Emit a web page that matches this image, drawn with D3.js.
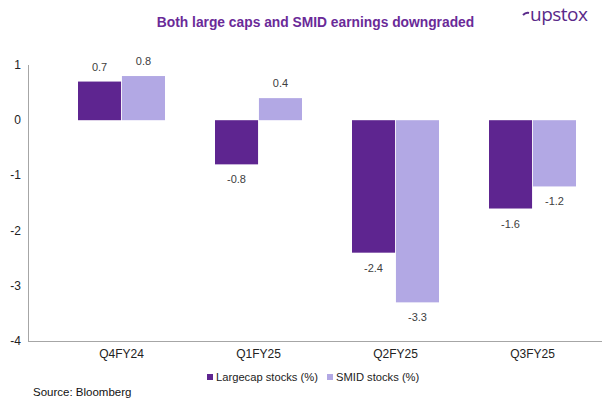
<!DOCTYPE html>
<html><head><meta charset="utf-8">
<script src="https://cdn.jsdelivr.net/npm/d3@7"></script>
<style>body{margin:0;background:#fff}svg{display:block;font-family:"Liberation Sans",Arial,sans-serif}</style>
</head><body><svg id="c" width="602" height="400"></svg>
<script>
const categories = ["Q4FY24","Q1FY25","Q2FY25","Q3FY25"];
const seriesNames = ["Largecap stocks (%)","SMID stocks (%)"];
const largecap = [0.7,-0.8,-2.4,-1.6];
const smid = [0.8,0.4,-3.3,-1.2];
const yTicks = [1,0,-1,-2,-3,-4];
const colors = ["#5e2590","#b2a8e4"];

const svg = d3.select("#c");
const y = d3.scaleLinear().domain([-4,1]).range([341,65]);
const x = d3.scaleBand().domain(categories).range([53,601]).padding(0);
const xi = d3.scaleBand().domain([0,1]).range([0,87]).paddingInner(0.02);

// title
svg.append("text").attr("x",315.5).attr("y",27).attr("text-anchor","middle")
  .attr("font-size",13.8).attr("font-weight","bold").attr("fill","#6a2a98")
  .text("Both large caps and SMID earnings downgraded");
// logo
svg.append("text").attr("x",530).attr("y",21).attr("font-size",19).attr("fill","#5a2a8a")
  .attr("font-family","'Open Sans',sans-serif").attr("letter-spacing","-0.5").text("upstox");
svg.append("path").attr("d","M523,15 q3,-3 6,-2").attr("stroke","#5a2a8a").attr("stroke-width",2).attr("fill","none");

// axes
svg.append("line").attr("x1",28.5).attr("x2",28.5).attr("y1",y(1)).attr("y2",y(-4)).attr("stroke","#a6a6a6");
svg.append("line").attr("x1",28).attr("x2",602).attr("y1",y(-4)+0.5).attr("y2",y(-4)+0.5).attr("stroke","#a6a6a6");
svg.selectAll(".yt").data(yTicks).join("text").attr("x",21).attr("y",d=>y(d)+4)
  .attr("text-anchor","end").attr("font-size",12).attr("fill","#222").text(d=>d);
svg.selectAll(".xt").data(categories).join("text").attr("x",d=>x(d)+x.bandwidth()/2).attr("y",358)
  .attr("text-anchor","middle").attr("font-size",12).attr("fill","#222").text(d=>d);

const data = [largecap, smid];
const off = (x.bandwidth()-87)/2;
data.forEach((vals,s)=>{
  const g = svg.append("g");
  g.selectAll("rect").data(vals).join("rect")
    .attr("x",(d,i)=>x(categories[i])+off+xi(s))
    .attr("width",xi.bandwidth())
    .attr("y",d=>y(Math.max(0,d)))
    .attr("height",d=>Math.abs(y(d)-y(0)))
    .attr("fill",colors[s]);
  g.selectAll("text").data(vals).join("text")
    .attr("x",(d,i)=>x(categories[i])+off+xi(s)+xi.bandwidth()/2)
    .attr("y",d=>d>=0? y(d)-11 : y(d)+19)
    .attr("text-anchor","middle").attr("font-size",11).attr("fill","#404040")
    .text(d=>d);
});

// legend
const leg = svg.append("g");
const lx = [207, 327];
seriesNames.forEach((n,i)=>{
  leg.append("rect").attr("x",lx[i]).attr("y",374).attr("width",6).attr("height",6).attr("fill",colors[i]);
  leg.append("text").attr("x",lx[i]+9).attr("y",381).attr("font-size",11.2).attr("fill","#222").text(n);
});
svg.append("text").attr("x",33).attr("y",396).attr("font-size",11.5).attr("fill","#111").text("Source: Bloomberg");
</script></body></html>
